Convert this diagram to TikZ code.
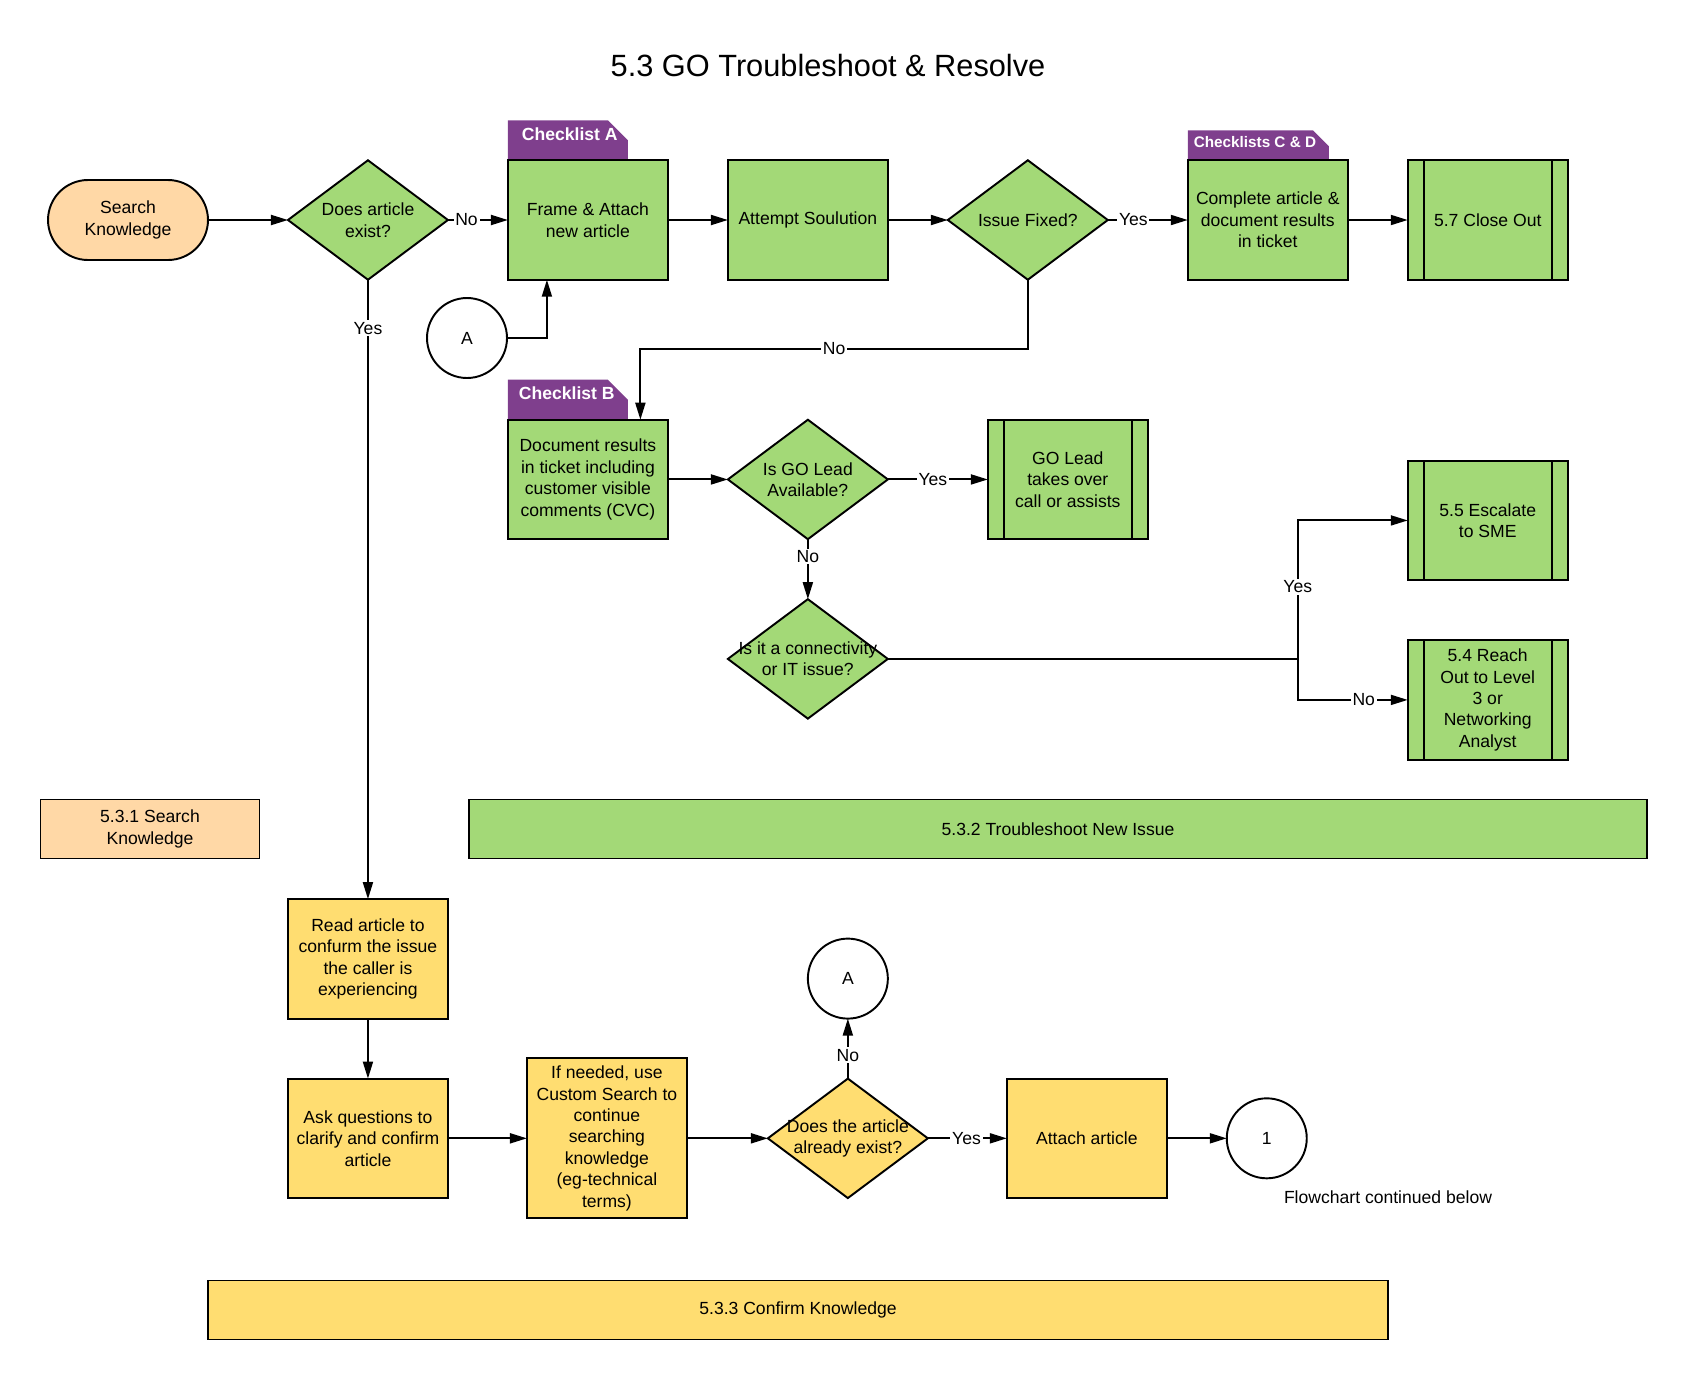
\documentclass[tikz,border=0pt]{standalone}
\usepackage{fontspec}
\setmainfont{Liberation Sans}
\usepackage{tikz}
\usetikzlibrary{shapes,positioning,arrows.meta,calc,backgrounds}

\definecolor{lgreen}{HTML}{A3D977}
\definecolor{lyellow}{HTML}{FFDD71}
\definecolor{lpeach}{HTML}{FFD8A6}
\definecolor{lpurple}{HTML}{7F3F8D}

\begin{document}
\begin{tikzpicture}[x=0.02cm, y=-0.02cm, line width=1.1pt,
            font=\fontsize{10}{12.2}\selectfont,
            every node/.append style={outer sep=0pt},
            box/.style={
                rectangle, draw, minimum width=3.2cm, minimum height=2.39cm, inner sep=0pt, align=center},
            decision/.style={
                diamond, draw, minimum width=3.2cm, minimum height=2.39cm, inner sep=0pt},
            subproc/.style={box, path picture={
                \draw ([xshift=0.32cm]path picture bounding box.north west) -- ([xshift=0.32cm]path picture bounding box.south west);
                \draw ([xshift=-0.32cm]path picture bounding box.north east) -- ([xshift=-0.32cm]path picture bounding box.south east);}},
            term/.style={rectangle, rounded corners=0.8cm, draw, minimum width=3.2cm, minimum height=1.6cm, align=center},
            band/.style={rectangle, draw, minimum height=1.18cm, align=center},
            conn/.style={circle, draw, minimum size=1.6cm, inner sep=0pt},
            tabtxt/.style={text=white, font=\bfseries\fontsize{10}{12}\selectfont, inner sep=0pt},
            lbl/.style={fill=white, inner sep=1pt},
            flow/.style={-{Triangle[length=0.34cm,width=0.2cm]}}]

            \useasboundingbox (0,0) rectangle (1688,1380);

            \node [font=\fontsize{17.5}{21}\selectfont] (title) at (828,66) {5.3 GO Troubleshoot \& Resolve};

            \node [term,fill=lpeach] (srch) at (128,220) {Search\\Knowledge};
            \node [decision,fill=lgreen,right=1.6cm of srch,
                label={[align=center]center:Does article\\exist?}] (dq1) {};
            \node [box,fill=lgreen,right=1.2cm of dq1] (frame) {Frame \& Attach\\new article};
            \node [box,fill=lgreen,right=1.2cm of frame] (attempt) {Attempt Soulution};
            \node [decision,fill=lgreen,right=1.2cm of attempt,
                label={[align=center]center:Issue Fixed?}] (dq2) {};
            \node [box,fill=lgreen,right=1.6cm of dq2] (complete) {Complete article \&\\document results\\in ticket};
            \node [subproc,fill=lgreen,right=1.2cm of complete] (close) {5.7 Close Out};

            \node [conn] (cA1) at (467,338) {A};

            \node [box,fill=lgreen,below=2.8cm of frame] (doc) {Document results\\in ticket including\\customer visible\\comments (CVC)};
            \node [decision,fill=lgreen,right=1.2cm of doc,
                label={[align=center]center:Is GO Lead\\Available?}] (dq3) {};
            \node [subproc,fill=lgreen,right=2cm of dq3] (golead) {GO Lead\\takes over\\call or assists};
            \node [decision,fill=lgreen,below=1.2cm of dq3,
                label={[align=center]center:Is it a connectivity\\or IT issue?}] (dq4) {};
            \node [subproc,fill=lgreen,below=3.62cm of close] (esc) {5.5 Escalate\\to SME};
            \node [subproc,fill=lgreen,below=1.2cm of esc] (reach) {5.4 Reach\\Out to Level\\3 or\\Networking\\Analyst};

            \begin{scope}[on background layer]
            \fill [lpurple] (frame.north west) -- ++(0,-40) -- ++(100,0) -- ++(20,20) -- ++(0,20) -- cycle;
            \fill [lpurple] (doc.north west) -- ++(0,-40) -- ++(100,0) -- ++(20,20) -- ++(0,20) -- cycle;
            \fill [lpurple] (complete.north west) -- ++(0,-30) -- ++(125,0) -- ++(16,16) -- ++(0,14) -- cycle;
            \end{scope}
            \node [tabtxt,anchor=west] (tabA) at ($(frame.north west)+(14,-26)$) {Checklist A};
            \node [tabtxt,anchor=west] (tabB) at ($(doc.north west)+(11,-26)$) {Checklist B};
            \node [tabtxt,anchor=west,font=\bfseries\fontsize{8.7}{10}\selectfont] (tabCD) at ($(complete.north west)+(6,-18)$) {Checklists C \& D};

            \node [band,fill=lpeach,minimum width=4.38cm] (band1) at (150,829) {5.3.1 Search\\Knowledge};
            \node [band,fill=lgreen,minimum width=23.58cm] (band2) at (1058,829) {5.3.2 Troubleshoot New Issue};

            \node [box,fill=lyellow,below=12.39cm of dq1] (read) {Read article to\\confurm the issue\\the caller is\\experiencing};
            \node [box,fill=lyellow,below=1.2cm of read] (ask) {Ask questions to\\clarify and confirm\\article};
            \node [box,fill=lyellow,minimum height=3.2cm,right=1.58cm of ask] (ifneed) {If needed, use\\Custom Search to\\continue\\searching\\knowledge\\(eg-technical\\terms)};
            \node [decision,fill=lyellow,right=1.62cm of ifneed,
                label={[align=center]center:Does the article\\already exist?}] (dq5) {};
            \node [box,fill=lyellow,right=1.58cm of dq5] (attach) {Attach article};
            \node [conn,right=1.2cm of attach] (c1) {1};
            \node [conn,above=1.2cm of dq5] (cA2) {A};
            \node (note) at (1388,1197) {Flowchart continued below};

            \node [band,fill=lyellow,minimum width=23.6cm] (band3) at (798,1310) {5.3.3 Confirm Knowledge};

            \draw [flow] (srch) -- (dq1);
            \draw [flow] (dq1) -- node[lbl,pos=0.31] {No} (frame);
            \draw [flow] (frame) -- (attempt);
            \draw [flow] (attempt) -- (dq2);
            \draw [flow] (dq2) -- node[lbl,pos=0.32] {Yes} (complete);
            \draw [flow] (complete) -- (close);
            \draw [flow] (cA1.east) -| ([xshift=0.78cm]frame.south west);
            \draw [flow] (dq2.south) -- ++(0,69) -| node[lbl,pos=0.25] {No} ([xshift=-0.55cm]doc.north east);

            \draw [flow] (doc) -- (dq3);
            \draw [flow] (dq3) -- node[lbl,pos=0.45] {Yes} (golead);
            \draw [flow] (dq3) -- node[lbl,pos=0.29] {No} (dq4);
            \coordinate [right=8.2cm of dq4.east] (jn);
            \draw (dq4) -- (jn);
            \draw [flow] (jn) |- node[lbl,pos=0.26] {Yes} (esc);
            \draw [flow] (jn) |- node[lbl,pos=0.8] {No} (reach);

            \draw [flow] (dq1) -- node[lbl,pos=0.078] {Yes} (read);
            \draw [flow] (read) -- (ask);
            \draw [flow] (ask) -- (ifneed);
            \draw [flow] (ifneed) -- (dq5);
            \draw [flow] (dq5) -- node[lbl,pos=0.39] {No} (cA2);
            \draw [flow] (dq5) -- node[lbl,pos=0.49] {Yes} (attach);
            \draw [flow] (attach) -- (c1);

        \end{tikzpicture}
\end{document}
